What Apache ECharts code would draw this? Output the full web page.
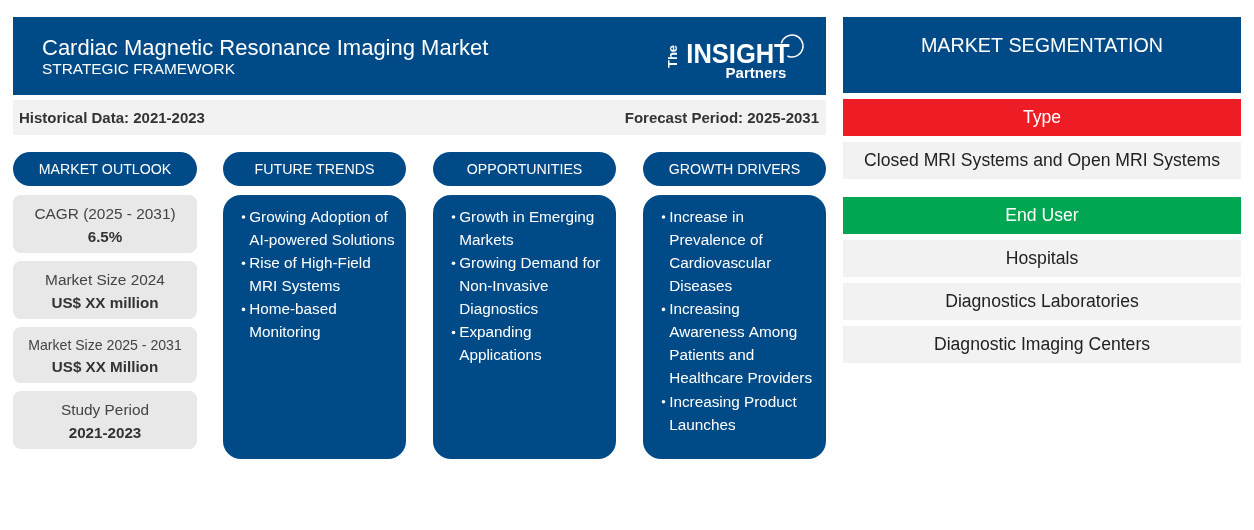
<!DOCTYPE html>
<html>
<head>
<meta charset="utf-8">
<style>
html, body { margin: 0; padding: 0; background: #fff; }
#main { width: 1254px; height: 530px; }
</style>
<script src="https://cdn.jsdelivr.net/npm/echarts@6/dist/echarts.min.js"></script>
</head>
<body>
<div id="main"></div>
<script>
var chartTitle = 'Cardiac Magnetic Resonance Imaging Market';
var chartSubtitle = 'STRATEGIC FRAMEWORK';
var historical = 'Historical Data: 2021-2023';
var forecast = 'Forecast Period: 2025-2031';
var outlookHeads = ['CAGR (2025 - 2031)', 'Market Size 2024', 'Market Size 2025 - 2031', 'Study Period'];
var outlookValues = ['6.5%', 'US$ XX million', 'US$ XX Million', '2021-2023'];
var columnHeads = ['MARKET OUTLOOK', 'FUTURE TRENDS', 'OPPORTUNITIES', 'GROWTH DRIVERS'];
var futureTrends = [
    ['Growing Adoption of', 'AI-powered Solutions'],
    ['Rise of High-Field', 'MRI Systems'],
    ['Home-based', 'Monitoring']
];
var opportunities = [
    ['Growth in Emerging', 'Markets'],
    ['Growing Demand for', 'Non-Invasive', 'Diagnostics'],
    ['Expanding', 'Applications']
];
var growthDrivers = [
    ['Increase in', 'Prevalence of', 'Cardiovascular', 'Diseases'],
    ['Increasing', 'Awareness Among', 'Patients and', 'Healthcare Providers'],
    ['Increasing Product', 'Launches']
];
var segTitle = 'MARKET SEGMENTATION';
var typeLabel = 'Type';
var typeItems = ['Closed MRI Systems and Open MRI Systems'];
var endUserLabel = 'End User';
var endUserItems = ['Hospitals', 'Diagnostics Laboratories', 'Diagnostic Imaging Centers'];

var BLUE = '#004b87', GREY = '#e8e8e8', LIGHT = '#f2f2f2', FONT = '"Liberation Sans", Arial, sans-serif';
var els = [];

function box(x, y, w, h, fill, r) {
    els.push({ type: 'rect', shape: { x: x, y: y, width: w, height: h, r: r || 0 }, style: { fill: fill } });
}
function label(x, y, str, size, color, align, weight) {
    els.push({
        type: 'text', x: x, y: y,
        style: {
            text: str, fill: color, align: align || 'center', verticalAlign: 'middle',
            font: (weight || 'normal') + ' ' + size + 'px ' + FONT
        }
    });
}

// left header
box(13, 17, 813, 78, BLUE);
label(42, 48.5, chartTitle, 22, '#fff', 'left');
label(42, 70, chartSubtitle, 15.4, '#fff', 'left');
box(13, 100, 813, 35, LIGHT);
label(19, 118.5, historical, 15, '#333', 'left', 'bold');
label(819, 118.5, forecast, 15, '#333', 'right', 'bold');

// logo
label(673, 56.5, 'The', 13, '#fff', 'center', 'bold');
els[els.length - 1].rotation = Math.PI / 2;
label(738, 55.5, 'INSIGHT', 28, '#fff', 'center', 'bold');
els[els.length - 1].scaleX = 0.91;
label(756, 74, 'Partners', 15, '#fff', 'center', 'bold');
els.push({
    type: 'arc', shape: { cx: 792, cy: 46, r: 11, startAngle: -2.9, endAngle: 2.0 },
    style: { stroke: '#fff', fill: null, lineWidth: 1.5 }
});

// column pills
var colX = [13, 223, 433, 643];
var colW = [184, 183, 183, 183];
columnHeads.forEach(function (h, i) {
    box(colX[i], 152, colW[i], 34, BLUE, 17);
    label(colX[i] + colW[i] / 2, 170.5, h, 14.2, '#fff');
});

// market outlook cards
var cardY = [195, 261, 327, 391];
var cardH = [58, 58, 56, 58];
var headGap = [20, 20, 19, 20];
var valueGap = [43, 43, 41, 43];
outlookHeads.forEach(function (h, i) {
    box(13, cardY[i], 184, cardH[i], GREY, 8);
    label(105, cardY[i] + headGap[i], h, i === 2 ? 14.1 : 15.4, '#444');
    label(105, cardY[i] + valueGap[i], outlookValues[i], 15.2, '#333', 'center', 'bold');
});

// bullet columns
[futureTrends, opportunities, growthDrivers].forEach(function (list, c) {
    var x = colX[c + 1];
    box(x, 195, 183, 264, BLUE, 18);
    var row = 0;
    list.forEach(function (item) {
        item.forEach(function (line, j) {
            var y = 217.5 + row * 23.1;
            if (j === 0) {
                els.push({ type: 'circle', shape: { cx: x + 20.5, cy: y - 0.5, r: 1.8 }, style: { fill: '#fff' } });
            }
            label(x + 26.2, y, line, 15.3, '#fff', 'left');
            row++;
        });
    });
});

// segmentation panel
box(843, 17, 398, 76, BLUE);
label(1042, 47, segTitle, 19.7, '#fff');
box(843, 99, 398, 37, '#ee1c25');
label(1042, 118.5, typeLabel, 17.6, '#fff');
box(843, 142, 398, 37, LIGHT);
label(1042, 161, typeItems[0], 17.6, '#222');
box(843, 197, 398, 37, '#00a651');
label(1042, 216.5, endUserLabel, 17.6, '#fff');
endUserItems.forEach(function (t, i) {
    var y = 240 + i * 43;
    box(843, y, 398, 37, LIGHT);
    label(1042, y + 19, t, 17.6, '#222');
});

var myChart = echarts.init(document.getElementById('main'), null, { renderer: 'canvas' });
myChart.setOption({ animation: false, backgroundColor: '#fff', graphic: { elements: els } });
</script>
</body>
</html>
